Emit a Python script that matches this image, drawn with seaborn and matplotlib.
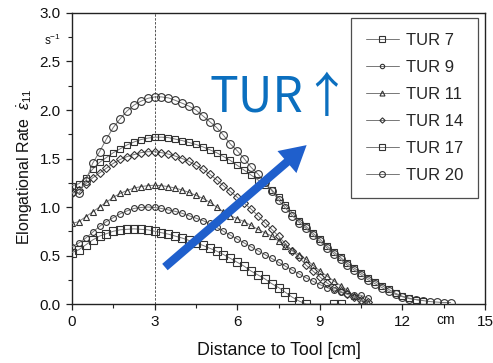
import numpy as np
import pandas as pd
import matplotlib
matplotlib.use("Agg")
import matplotlib.pyplot as plt
import seaborn as sns

sns.set_style("white")
plt.rcParams['font.family'] = ['Liberation Sans', 'DejaVu Sans']
plt.rcParams['mathtext.fontset'] = 'custom'
plt.rcParams['mathtext.rm'] = 'Liberation Sans'
plt.rcParams['mathtext.it'] = 'Liberation Sans:italic'

# ---------------- data ----------------
x_7 = [0, 0.25, 0.5, 0.75, 1.0, 1.25, 1.5, 1.75, 2.0, 2.25, 2.5, 2.75, 3.0, 3.25, 3.5, 3.75,
       4.0, 4.25, 4.5, 4.75, 5.0, 5.25, 5.5, 5.75, 6.0, 6.25, 6.5, 6.75, 7.0, 7.25, 7.5, 7.75,
       8.0, 8.25, 8.5, 9.5, 9.75]
tur_7 = [0.53, 0.56, 0.61, 0.66, 0.70, 0.725, 0.75, 0.765, 0.77, 0.775, 0.77, 0.765, 0.75, 0.735, 0.72, 0.70,
         0.68, 0.655, 0.63, 0.605, 0.575, 0.545, 0.51, 0.47, 0.43, 0.39, 0.34, 0.30, 0.26, 0.21, 0.17, 0.12,
         0.07, 0.03, 0.0, 0.0, 0.0]

x_9 = [0, 0.25, 0.5, 0.75, 1.0, 1.25, 1.5, 1.75, 2.0, 2.25, 2.5, 2.75, 3.0, 3.25, 3.5, 3.75,
       4.0, 4.25, 4.5, 4.75, 5.0, 5.25, 5.5, 5.75, 6.0, 6.25, 6.5, 6.75, 7.0, 7.25, 7.5, 7.75,
       8.0, 8.25, 8.5, 8.75, 9.0, 9.25, 9.5, 9.75, 10.0, 10.25, 10.5, 10.75]
tur_9 = [0.59, 0.63, 0.68, 0.74, 0.80, 0.85, 0.89, 0.93, 0.96, 0.985, 0.995, 1.0, 0.995, 0.985, 0.97, 0.955,
         0.935, 0.91, 0.885, 0.86, 0.83, 0.79, 0.75, 0.71, 0.67, 0.63, 0.59, 0.55, 0.51, 0.47, 0.43, 0.39,
         0.35, 0.31, 0.27, 0.235, 0.20, 0.17, 0.145, 0.12, 0.105, 0.095, 0.09, 0.06]

x_11 = [0, 0.25, 0.5, 0.75, 1.0, 1.25, 1.5, 1.75, 2.0, 2.25, 2.5, 2.75, 3.0, 3.25, 3.5, 3.75,
        4.0, 4.25, 4.5, 4.75, 5.0, 5.25, 5.5, 5.75, 6.0, 6.25, 6.5, 6.75, 7.0, 7.25, 7.5, 7.75,
        8.0, 8.25, 8.5, 8.75, 9.0, 9.25, 9.5, 9.75, 10.0, 10.25, 10.5, 10.75]
tur_11 = [0.83, 0.85, 0.90, 0.95, 1.00, 1.05, 1.10, 1.14, 1.17, 1.195, 1.21, 1.22, 1.225, 1.22, 1.21, 1.195,
          1.175, 1.15, 1.12, 1.09, 1.05, 1.00, 0.95, 0.91, 0.88, 0.85, 0.81, 0.77, 0.735, 0.70, 0.65, 0.60,
          0.555, 0.51, 0.46, 0.40, 0.34, 0.29, 0.24, 0.19, 0.14, 0.08, 0.03, 0.01]

x_14 = [0, 0.25, 0.5, 0.75, 1.0, 1.25, 1.5, 1.75, 2.0, 2.25, 2.5, 2.75, 3.0, 3.25, 3.5, 3.75,
        4.0, 4.25, 4.5, 4.75, 5.0, 5.25, 5.5, 5.75, 6.0, 6.25, 6.5, 6.75, 7.0, 7.25, 7.5, 7.75,
        8.0, 8.25, 8.5, 8.75, 9.0, 9.25, 9.5, 9.75, 10.0, 10.25, 10.5, 10.75]
tur_14 = [1.14, 1.18, 1.24, 1.30, 1.35, 1.40, 1.45, 1.49, 1.52, 1.54, 1.56, 1.57, 1.57, 1.56, 1.545, 1.525,
          1.50, 1.47, 1.43, 1.39, 1.34, 1.28, 1.22, 1.16, 1.10, 1.04, 0.98, 0.91, 0.84, 0.77, 0.70, 0.62,
          0.55, 0.48, 0.40, 0.34, 0.28, 0.22, 0.17, 0.13, 0.10, 0.07, 0.04, 0.02]

x_17 = [0, 0.25, 0.5, 0.75, 1.0, 1.25, 1.5, 1.75, 2.0, 2.25, 2.5, 2.75, 3.0, 3.25, 3.5, 3.75,
        4.0, 4.25, 4.5, 4.75, 5.0, 5.25, 5.5, 5.75, 6.0, 6.25, 6.5, 6.75, 7.0, 7.25, 7.5, 7.75,
        8.0, 8.25, 8.5, 8.75, 9.0, 9.25, 9.5, 9.75, 10.0, 10.25, 10.5, 10.75, 11.0, 11.25, 11.5, 11.75,
        12.0, 12.25, 12.5, 12.75]
tur_17 = [1.22, 1.24, 1.30, 1.39, 1.46, 1.51, 1.56, 1.60, 1.64, 1.67, 1.695, 1.71, 1.72, 1.72, 1.715, 1.70,
          1.685, 1.665, 1.645, 1.62, 1.59, 1.56, 1.52, 1.48, 1.43, 1.38, 1.33, 1.28, 1.23, 1.18, 1.10, 1.02,
          0.94, 0.86, 0.80, 0.73, 0.67, 0.60, 0.54, 0.48, 0.42, 0.37, 0.32, 0.27, 0.23, 0.19, 0.15, 0.11,
          0.08, 0.06, 0.045, 0.035]

x_20 = [0, 0.25, 0.5, 0.75, 1.0, 1.25, 1.5, 1.75, 2.0, 2.25, 2.5, 2.75, 3.0, 3.25, 3.5, 3.75,
        4.0, 4.25, 4.5, 4.75, 5.0, 5.25, 5.5, 5.75, 6.0, 6.25, 6.5, 6.75, 7.0, 7.25, 7.5, 7.75,
        8.0, 8.25, 8.5, 8.75, 9.0, 9.25, 9.5, 9.75, 10.0, 10.25, 10.5, 10.75, 11.0, 11.25, 11.5, 11.75,
        12.0, 12.25, 12.5, 12.75, 13.0, 13.25, 13.5, 13.75]
tur_20 = [1.15, 1.14, 1.27, 1.45, 1.57, 1.70, 1.82, 1.91, 1.99, 2.05, 2.09, 2.12, 2.135, 2.135, 2.125, 2.10,
          2.07, 2.04, 2.00, 1.94, 1.88, 1.82, 1.74, 1.65, 1.58, 1.50, 1.41, 1.34, 1.26, 1.17, 1.07, 0.99,
          0.91, 0.84, 0.78, 0.71, 0.645, 0.58, 0.52, 0.46, 0.40, 0.35, 0.30, 0.25, 0.21, 0.17, 0.13, 0.10,
          0.075, 0.055, 0.045, 0.035, 0.025, 0.02, 0.015, 0.015]

labels = ["TUR 7", "TUR 9", "TUR 11", "TUR 14", "TUR 17", "TUR 20"]
xs = [x_7, x_9, x_11, x_14, x_17, x_20]
ys = [tur_7, tur_9, tur_11, tur_14, tur_17, tur_20]

frames = [pd.DataFrame({"distance": x, "rate": y, "series": lab}) for x, y, lab in zip(xs, ys, labels)]
df = pd.concat(frames, ignore_index=True)

# ---------------- styles ----------------
markers = {"TUR 7": "s", "TUR 9": "o", "TUR 11": "^", "TUR 14": "D", "TUR 17": "s", "TUR 20": "o"}
msizes = {"TUR 7": 5.5, "TUR 9": 4.2, "TUR 11": 4.8, "TUR 14": 3.6, "TUR 17": 5.0, "TUR 20": 5.6}

fig = plt.figure(figsize=(4.93, 3.63), dpi=100)
ax = fig.add_axes([0.146, 0.1625, 0.838, 0.8017])

ax.axvline(3, color="#555555", lw=0.7, ls=(0, (2.5, 1.5)), zorder=1)

for lab in labels:
    sub = df[df["series"] == lab]
    sns.lineplot(data=sub, x="distance", y="rate", ax=ax, color="#777777", lw=0.7,
                 marker=markers[lab], markersize=msizes[lab], markerfacecolor="none",
                 markeredgecolor="#333333", markeredgewidth=0.8, label=lab, zorder=3,
                 estimator=None, sort=False)

ax.set_xlim(0, 15)
ax.set_ylim(0, 3.0)
ax.set_xticks([0, 3, 6, 9, 12, 15])
ax.set_xticks([1.5, 4.5, 7.5, 10.5, 13.5], minor=True)
ax.set_yticks([0.0, 0.5, 1.0, 1.5, 2.0, 2.5, 3.0])
ax.set_yticklabels(["0.0", "0.5", "1.0", "1.5", "2.0", "2.5", "3.0"])
ax.set_yticks([0.25, 0.75, 1.25, 1.75, 2.25, 2.75], minor=True)
ax.tick_params(axis="both", which="major", direction="out", length=4.5, width=0.9,
               labelsize=11, color="#222222", labelcolor="#111111", bottom=True, left=True)
ax.tick_params(axis="both", which="minor", direction="out", length=2.8, width=0.8,
               color="#222222", bottom=True, left=True)
for s in ax.spines.values():
    s.set_color("#222222")
    s.set_linewidth(1.0)

ax.set_xlabel("Distance to Tool [cm]", fontsize=12.8, color="#111111", labelpad=9)
ax.set_ylabel(r"Elongational Rate  $\dot{\varepsilon}_{11}$", fontsize=11.5, color="#111111")
ax.yaxis.set_label_coords(-0.09, 0.47)

ax.text(-0.048, 0.905, r"s$^{-1}$", transform=ax.transAxes, fontsize=8.5,
        ha="center", va="center", color="#111111")
ax.text(0.905, -0.055, "cm", transform=ax.transAxes, fontsize=10,
        ha="center", va="center", color="#111111")

leg = ax.legend(loc="upper right", bbox_to_anchor=(0.983, 0.983), fontsize=12,
                frameon=True, fancybox=False, edgecolor="#222222", handlelength=2.0,
                labelspacing=0.72, borderpad=0.9, handletextpad=0.4, borderaxespad=0,
                markerscale=0.75)
leg.get_frame().set_linewidth(0.9)
for line in leg.get_lines():
    line.set_linewidth(0.7)

# blue annotation
ax.text(0.333, 0.66, "TUR\u2191", transform=ax.transAxes, fontsize=34.5,
        family=["Noto Sans CJK SC", "DejaVu Sans"], color="#0B6FBF",
        ha="left", va="baseline", zorder=6)
ax.annotate("", xy=(0.568, 0.546), xytext=(0.225, 0.127), xycoords="axes fraction",
            textcoords="axes fraction",
            arrowprops=dict(arrowstyle="simple,head_width=1.9,head_length=1.7,tail_width=0.55",
                            mutation_scale=11, color="#1F5FCC", lw=0, shrinkA=0, shrinkB=0),
            zorder=6)

fig.savefig("out.png", dpi=100)
